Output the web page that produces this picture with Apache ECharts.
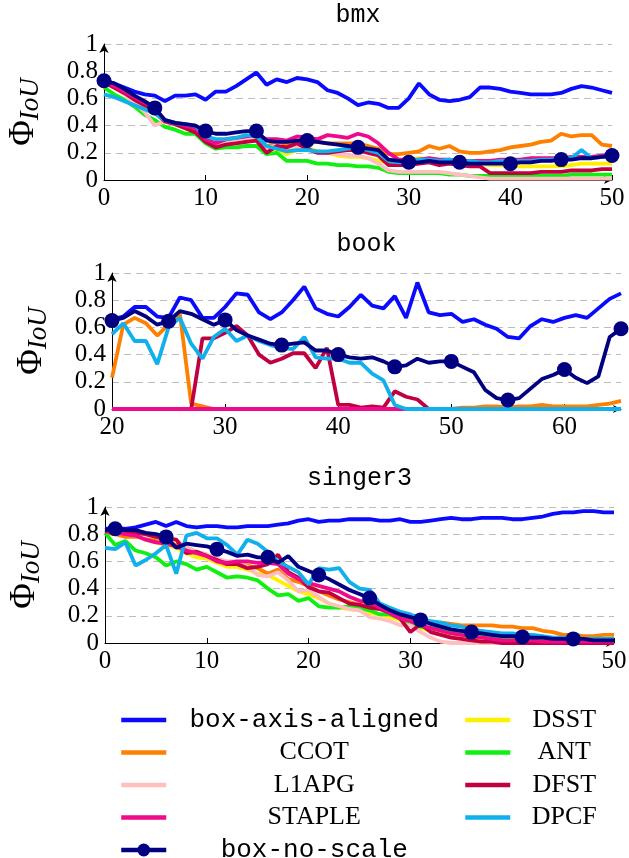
<!DOCTYPE html>
<html>
<head>
<meta charset="utf-8">
<script src="https://cdn.jsdelivr.net/npm/echarts@6/dist/echarts.min.js"></script>
<style>
  html, body { margin: 0; padding: 0; background: #fff; }
  #chart { width: 629px; height: 858px; }
</style>
</head>
<body>
<div id="chart"></div>
<script>
// ---- data ----
const bmxStart = 0
const bmxAxisAligned = [0.73, 0.71, 0.68, 0.65, 0.63, 0.62, 0.58, 0.62, 0.62, 0.63, 0.59, 0.65, 0.65, 0.69, 0.74, 0.79, 0.70, 0.74, 0.72, 0.75, 0.74, 0.72, 0.66, 0.64, 0.60, 0.55, 0.57, 0.56, 0.53, 0.53, 0.60, 0.71, 0.63, 0.59, 0.58, 0.59, 0.61, 0.68, 0.68, 0.67, 0.65, 0.64, 0.63, 0.63, 0.63, 0.64, 0.67, 0.69, 0.68, 0.66, 0.64]
const bmxDSST = [0.71, 0.68, 0.64, 0.60, 0.55, 0.50, 0.43, 0.41, 0.38, 0.36, 0.29, 0.25, 0.27, 0.28, 0.29, 0.30, 0.24, 0.22, 0.19, 0.22, 0.24, 0.21, 0.20, 0.18, 0.17, 0.17, 0.16, 0.14, 0.13, 0.14, 0.15, 0.16, 0.15, 0.14, 0.14, 0.13, 0.12, 0.12, 0.11, 0.11, 0.10, 0.10, 0.10, 0.10, 0.10, 0.10, 0.11, 0.12, 0.12, 0.12, 0.12]
const bmxCCOT = [0.72, 0.69, 0.65, 0.60, 0.55, 0.50, 0.43, 0.41, 0.39, 0.37, 0.30, 0.26, 0.28, 0.29, 0.30, 0.31, 0.24, 0.29, 0.26, 0.28, 0.27, 0.28, 0.27, 0.27, 0.27, 0.27, 0.25, 0.23, 0.19, 0.19, 0.20, 0.21, 0.25, 0.23, 0.25, 0.21, 0.20, 0.20, 0.21, 0.22, 0.24, 0.25, 0.26, 0.28, 0.29, 0.34, 0.32, 0.33, 0.33, 0.26, 0.25]
const bmxANT = [0.68, 0.63, 0.59, 0.54, 0.48, 0.44, 0.39, 0.37, 0.34, 0.34, 0.27, 0.23, 0.24, 0.24, 0.25, 0.25, 0.19, 0.20, 0.14, 0.14, 0.14, 0.12, 0.12, 0.11, 0.11, 0.10, 0.10, 0.09, 0.06, 0.05, 0.05, 0.05, 0.05, 0.05, 0.04, 0.04, 0.03, 0.03, 0.03, 0.03, 0.03, 0.03, 0.03, 0.03, 0.03, 0.03, 0.04, 0.04, 0.04, 0.04, 0.04]
const bmxL1APG = [0.71, 0.68, 0.63, 0.57, 0.50, 0.40, 0.43, 0.41, 0.38, 0.36, 0.29, 0.26, 0.27, 0.29, 0.30, 0.31, 0.24, 0.25, 0.23, 0.24, 0.22, 0.21, 0.20, 0.19, 0.18, 0.18, 0.16, 0.12, 0.07, 0.06, 0.06, 0.06, 0.06, 0.06, 0.05, 0.04, 0.03, 0.02, 0.01, 0.01, 0.01, 0.01, 0.01, 0.01, 0.01, 0.01, 0.01, 0.01, 0.01, 0.01, 0.01]
const bmxDFST = [0.72, 0.68, 0.64, 0.59, 0.55, 0.50, 0.43, 0.41, 0.38, 0.35, 0.28, 0.24, 0.26, 0.27, 0.28, 0.29, 0.20, 0.25, 0.24, 0.27, 0.23, 0.20, 0.20, 0.21, 0.22, 0.22, 0.20, 0.18, 0.11, 0.11, 0.11, 0.12, 0.13, 0.11, 0.12, 0.11, 0.10, 0.10, 0.05, 0.05, 0.05, 0.05, 0.05, 0.06, 0.06, 0.06, 0.07, 0.07, 0.07, 0.08, 0.08]
const bmxSTAPLE = [0.72, 0.69, 0.65, 0.61, 0.57, 0.52, 0.44, 0.42, 0.40, 0.38, 0.30, 0.27, 0.30, 0.31, 0.32, 0.33, 0.30, 0.30, 0.29, 0.32, 0.31, 0.30, 0.33, 0.32, 0.31, 0.34, 0.32, 0.27, 0.20, 0.15, 0.15, 0.15, 0.16, 0.15, 0.15, 0.14, 0.14, 0.14, 0.14, 0.15, 0.15, 0.15, 0.16, 0.16, 0.16, 0.16, 0.17, 0.17, 0.17, 0.18, 0.19]
const bmxDPCF = [0.63, 0.61, 0.58, 0.55, 0.52, 0.49, 0.44, 0.42, 0.41, 0.40, 0.32, 0.30, 0.30, 0.31, 0.33, 0.32, 0.25, 0.23, 0.21, 0.22, 0.22, 0.21, 0.21, 0.22, 0.23, 0.24, 0.22, 0.20, 0.14, 0.13, 0.14, 0.15, 0.15, 0.14, 0.15, 0.13, 0.14, 0.13, 0.13, 0.14, 0.14, 0.14, 0.14, 0.15, 0.15, 0.16, 0.16, 0.22, 0.16, 0.17, 0.17]
const bmxNoScale = [0.73, 0.71, 0.67, 0.62, 0.58, 0.53, 0.44, 0.42, 0.41, 0.40, 0.36, 0.34, 0.34, 0.35, 0.36, 0.36, 0.29, 0.28, 0.28, 0.29, 0.29, 0.28, 0.27, 0.26, 0.25, 0.24, 0.23, 0.22, 0.15, 0.14, 0.13, 0.13, 0.14, 0.13, 0.13, 0.13, 0.12, 0.12, 0.12, 0.12, 0.12, 0.13, 0.13, 0.14, 0.14, 0.15, 0.15, 0.16, 0.16, 0.17, 0.18]

const bookStart = 20
const bookAxisAligned = [0.66, 0.68, 0.75, 0.75, 0.68, 0.67, 0.82, 0.80, 0.67, 0.67, 0.75, 0.85, 0.84, 0.71, 0.66, 0.71, 0.80, 0.90, 0.74, 0.70, 0.68, 0.75, 0.84, 0.76, 0.74, 0.83, 0.67, 0.93, 0.71, 0.69, 0.70, 0.64, 0.66, 0.62, 0.59, 0.53, 0.52, 0.61, 0.66, 0.64, 0.67, 0.69, 0.67, 0.74, 0.81, 0.85]
const bookZeros = [0, 0, 0, 0, 0, 0, 0, 0, 0, 0, 0, 0, 0, 0, 0, 0, 0, 0, 0, 0, 0, 0, 0, 0, 0, 0, 0, 0, 0, 0, 0, 0, 0, 0, 0, 0, 0, 0, 0, 0, 0, 0, 0, 0, 0, 0]
const bookDSST = bookZeros
const bookANT = bookZeros
const bookL1APG = bookZeros
const bookSTAPLE = bookZeros
const bookCCOT = [0.23, 0.62, 0.67, 0.63, 0.54, 0.62, 0.70, 0.04, 0.02, 0, 0, 0, 0, 0, 0, 0, 0, 0, 0, 0, 0, 0, 0, 0, 0, 0, 0, 0, 0, 0, 0, 0.01, 0.01, 0.02, 0.02, 0.01, 0.02, 0.02, 0.03, 0.02, 0.02, 0.02, 0.02, 0.03, 0.04, 0.06]
const bookDFST = [0, 0, 0, 0, 0, 0, 0, 0, 0.52, 0.52, 0.56, 0.61, 0.54, 0.40, 0.34, 0.37, 0.41, 0.41, 0.30, 0.45, 0.03, 0.03, 0.01, 0.02, 0.01, 0.13, 0.09, 0.07, 0, 0, 0, 0, 0, 0, 0, 0, 0, 0, 0, 0, 0, 0, 0, 0, 0, 0]
const bookDPCF = [0.55, 0.63, 0.50, 0.50, 0.33, 0.60, 0.67, 0.48, 0.37, 0.53, 0.59, 0.50, 0.54, 0.50, 0.47, 0.45, 0.44, 0.53, 0.38, 0.37, 0.37, 0.34, 0.34, 0.26, 0.21, 0.03, 0, 0, 0, 0, 0, 0, 0, 0, 0, 0, 0, 0, 0, 0, 0, 0, 0, 0, 0, 0]
const bookNoScale = [0.65, 0.67, 0.72, 0.68, 0.62, 0.645, 0.72, 0.70, 0.66, 0.62, 0.655, 0.58, 0.54, 0.51, 0.48, 0.47, 0.48, 0.49, 0.43, 0.43, 0.40, 0.38, 0.37, 0.38, 0.35, 0.31, 0.32, 0.37, 0.34, 0.35, 0.35, 0.31, 0.27, 0.14, 0.08, 0.066, 0.08, 0.15, 0.22, 0.25, 0.29, 0.23, 0.19, 0.24, 0.53, 0.59]

const singerStart = 0
const singerAxisAligned = [0.84, 0.84, 0.84, 0.85, 0.87, 0.89, 0.86, 0.89, 0.86, 0.85, 0.86, 0.86, 0.85, 0.85, 0.86, 0.86, 0.86, 0.87, 0.88, 0.90, 0.91, 0.89, 0.90, 0.90, 0.91, 0.91, 0.91, 0.90, 0.90, 0.91, 0.89, 0.89, 0.90, 0.91, 0.92, 0.91, 0.91, 0.92, 0.92, 0.92, 0.91, 0.91, 0.92, 0.93, 0.95, 0.96, 0.96, 0.97, 0.97, 0.96, 0.96]
const singerDSST = [0.82, 0.81, 0.79, 0.79, 0.76, 0.74, 0.72, 0.70, 0.66, 0.63, 0.62, 0.59, 0.56, 0.56, 0.54, 0.51, 0.50, 0.46, 0.42, 0.38, 0.36, 0.33, 0.29, 0.26, 0.25, 0.24, 0.22, 0.21, 0.19, 0.17, 0.14, 0.11, 0.09, 0.08, 0.06, 0.05, 0.04, 0.03, 0.03, 0.02, 0.02, 0.02, 0.02, 0.01, 0.01, 0.01, 0.01, 0.01, 0.01, 0.01, 0.01]
const singerCCOT = [0.81, 0.80, 0.78, 0.78, 0.78, 0.76, 0.74, 0.72, 0.70, 0.67, 0.65, 0.60, 0.58, 0.58, 0.57, 0.55, 0.51, 0.54, 0.47, 0.45, 0.42, 0.38, 0.35, 0.32, 0.30, 0.28, 0.27, 0.25, 0.23, 0.20, 0.18, 0.16, 0.15, 0.15, 0.14, 0.13, 0.13, 0.13, 0.13, 0.12, 0.12, 0.11, 0.11, 0.09, 0.08, 0.06, 0.06, 0.05, 0.05, 0.06, 0.06]
const singerANT = [0.81, 0.72, 0.75, 0.68, 0.66, 0.63, 0.57, 0.60, 0.58, 0.54, 0.56, 0.52, 0.48, 0.49, 0.48, 0.46, 0.40, 0.35, 0.36, 0.31, 0.33, 0.27, 0.26, 0.26, 0.27, 0.26, 0.24, 0.21, 0.21, 0.18, 0.15, 0.12, 0.11, 0.10, 0.08, 0.07, 0.06, 0.05, 0.04, 0.03, 0.03, 0.02, 0.02, 0.02, 0.02, 0.01, 0.01, 0.01, 0.01, 0.01, 0.01]
const singerL1APG = [0.82, 0.81, 0.80, 0.80, 0.79, 0.78, 0.76, 0.76, 0.70, 0.67, 0.65, 0.62, 0.60, 0.60, 0.56, 0.50, 0.49, 0.52, 0.46, 0.38, 0.39, 0.34, 0.29, 0.27, 0.25, 0.24, 0.19, 0.18, 0.16, 0.13, 0.13, 0.08, 0.04, 0.01, 0, 0, 0, 0, 0, 0, 0, 0, 0, 0, 0, 0, 0, 0, 0, 0, 0]
const singerDFST = [0.82, 0.82, 0.81, 0.81, 0.80, 0.78, 0.77, 0.76, 0.66, 0.67, 0.64, 0.61, 0.58, 0.58, 0.55, 0.56, 0.58, 0.65, 0.52, 0.48, 0.41, 0.38, 0.37, 0.33, 0.29, 0.28, 0.26, 0.25, 0.22, 0.18, 0.08, 0.14, 0.08, 0.06, 0.04, 0.03, 0.02, 0.01, 0.01, 0, 0, 0, 0, 0, 0, 0, 0, 0, 0, 0, 0]
const singerSTAPLE = [0.83, 0.81, 0.80, 0.79, 0.76, 0.74, 0.73, 0.71, 0.68, 0.66, 0.64, 0.60, 0.59, 0.60, 0.60, 0.59, 0.59, 0.58, 0.51, 0.47, 0.44, 0.42, 0.40, 0.38, 0.34, 0.31, 0.30, 0.26, 0.22, 0.18, 0.16, 0.13, 0.11, 0.09, 0.07, 0.06, 0.05, 0.04, 0.03, 0.02, 0.02, 0.02, 0.02, 0.01, 0.01, 0.01, 0.01, 0.01, 0.01, 0.01, 0.01]
const singerDPCF = [0.70, 0.69, 0.74, 0.57, 0.61, 0.66, 0.72, 0.51, 0.79, 0.81, 0.77, 0.77, 0.72, 0.65, 0.76, 0.73, 0.67, 0.60, 0.56, 0.52, 0.43, 0.55, 0.54, 0.55, 0.45, 0.40, 0.39, 0.29, 0.26, 0.23, 0.21, 0.18, 0.16, 0.15, 0.13, 0.12, 0.10, 0.09, 0.08, 0.07, 0.07, 0.06, 0.06, 0.05, 0.04, 0.04, 0.04, 0.03, 0.03, 0.03, 0.03]
const singerNoScale = [0.83, 0.84, 0.83, 0.83, 0.81, 0.80, 0.78, 0.70, 0.73, 0.72, 0.71, 0.69, 0.67, 0.64, 0.65, 0.63, 0.63, 0.59, 0.64, 0.56, 0.53, 0.50, 0.47, 0.43, 0.39, 0.36, 0.33, 0.28, 0.24, 0.21, 0.19, 0.17, 0.14, 0.12, 0.10, 0.09, 0.08, 0.07, 0.06, 0.05, 0.05, 0.045, 0.04, 0.04, 0.03, 0.03, 0.03, 0.03, 0.02, 0.02, 0.02]

const yTicks = [0, 0.2, 0.4, 0.6, 0.8, 1]

// ---- styles ----
const colors = {
  'box-axis-aligned': '#0a0aff',
  'DSST': '#fff000',
  'CCOT': '#ff8000',
  'ANT': '#10f010',
  'L1APG': '#ffbfbf',
  'DFST': '#c00040',
  'STAPLE': '#ee0a8a',
  'DPCF': '#10b0ec',
  'box-no-scale': '#000080'
}
const serif = 'Liberation Serif'
const mono = 'Liberation Mono'

// panel definitions (drawing order as in the original plot)
const panels = [
  { title: 'bmx', start: bmxStart, min: 0, max: 50, markFirst: 0, grid: { left: 104, top: 44, width: 508, height: 136 }, titleTop: 3,
    lines: [['box-axis-aligned', bmxAxisAligned], ['DSST', bmxDSST], ['CCOT', bmxCCOT], ['ANT', bmxANT], ['L1APG', bmxL1APG], ['DFST', bmxDFST], ['STAPLE', bmxSTAPLE], ['DPCF', bmxDPCF], ['box-no-scale', bmxNoScale]] },
  { title: 'book', start: bookStart, min: 20, max: 65, markFirst: 0, grid: { left: 112, top: 273, width: 509, height: 136 }, titleTop: 232,
    lines: [['box-axis-aligned', bookAxisAligned], ['DSST', bookDSST], ['CCOT', bookCCOT], ['ANT', bookANT], ['L1APG', bookL1APG], ['DFST', bookDFST], ['STAPLE', bookSTAPLE], ['DPCF', bookDPCF], ['box-no-scale', bookNoScale]] },
  { title: 'singer3', start: singerStart, min: 0, max: 50, markFirst: 1, grid: { left: 105, top: 507, width: 509, height: 136 }, titleTop: 466,
    lines: [['box-axis-aligned', singerAxisAligned], ['DSST', singerDSST], ['CCOT', singerCCOT], ['ANT', singerANT], ['L1APG', singerL1APG], ['DFST', singerDFST], ['STAPLE', singerSTAPLE], ['DPCF', singerDPCF], ['box-no-scale', singerNoScale]] }
]

const grids = []
const xAxes = []
const yAxes = []
const titles = []
const series = []

panels.forEach((p, g) => {
  grids.push(Object.assign({ containLabel: false, outerBoundsMode: 'none' }, p.grid))
  titles.push({
    text: p.title,
    left: p.grid.left + p.grid.width / 2,
    textAlign: 'center',
    top: p.titleTop,
    padding: 0,
    textStyle: { fontFamily: mono, fontSize: 25, fontWeight: 'normal', color: '#000' }
  })
  xAxes.push({
    type: 'value',
    gridIndex: g,
    min: p.min,
    max: p.max,
    interval: 10,
    axisLine: { show: true, onZero: false, lineStyle: { color: '#000', width: 1 }, symbol: ['none', 'arrow'], symbolSize: [6, 8] },
    axisTick: { show: true, inside: true, length: 5, lineStyle: { color: '#000' } },
    axisLabel: { show: true, margin: 6, showMaxLabel: p.max % 10 === 0, fontFamily: serif, fontSize: 25, color: '#000' },
    splitLine: { show: false }
  })
  yAxes.push({
    type: 'value',
    gridIndex: g,
    min: yTicks[0],
    max: yTicks[yTicks.length - 1],
    interval: 0.2,
    name: '{p|Φ}{s|IoU}',
    nameLocation: 'middle',
    nameRotate: 90,
    nameGap: 60,
    nameTextStyle: {
      color: '#000',
      rich: {
        p: { fontFamily: serif, fontSize: 35, lineHeight: 40, color: '#000' },
        s: { fontFamily: serif, fontSize: 27, fontStyle: 'italic', lineHeight: 18, verticalAlign: 'bottom', color: '#000' }
      }
    },
    axisLine: { show: true, onZero: false, lineStyle: { color: '#000', width: 1 }, symbol: ['none', 'arrow'], symbolSize: [7, 9] },
    axisTick: { show: false },
    axisLabel: { show: true, margin: 6, fontFamily: serif, fontSize: 25, color: '#000' },
    splitLine: { show: true, lineStyle: { color: '#bdbdbd', type: [7, 5], width: 1 } }
  })
  p.lines.forEach(([name, ys]) => {
    const marked = name === 'box-no-scale'
    series.push({
      type: 'line',
      name: name,
      xAxisIndex: g,
      yAxisIndex: g,
      data: ys.map((v, i) => [p.start + i, v]),
      symbol: marked ? 'circle' : 'none',
      symbolSize: marked ? (v, params) => ((params.dataIndex - p.markFirst) % 5 === 0 ? 15 : 0) : 0,
      showSymbol: marked,
      showAllSymbol: true,
      lineStyle: { width: 3.8, color: colors[name] },
      itemStyle: { color: colors[name] },
      emphasis: { disabled: true },
      clip: true
    })
  })
})

// legend entries: hide the dot for plain lines
const legendItem = (name) => (name === 'box-no-scale'
  ? { name: name }
  : { name: name, itemStyle: { opacity: 0 } })

const legendBase = {
  type: 'plain',
  orient: 'vertical',
  top: 707,
  height: 170,
  padding: 0,
  itemWidth: 45,
  itemHeight: 16,
  itemGap: 6.5,
  selectedMode: false,
  lineStyle: { width: 4.5 }
}
const legendLeft = Object.assign({}, legendBase, {
  left: 119,
  data: ['box-axis-aligned', 'CCOT', 'L1APG', 'STAPLE', 'box-no-scale'].map(legendItem),
  formatter: (name) => (name.indexOf('box') === 0 ? '{m|' + name + '}' : '{s|' + name + '}'),
  textStyle: {
    rich: {
      m: { fontFamily: mono, fontSize: 26, width: 286, align: 'center', lineHeight: 26, color: '#000' },
      s: { fontFamily: serif, fontSize: 26, width: 286, align: 'center', lineHeight: 26, color: '#000' }
    }
  }
})
const legendRight = Object.assign({}, legendBase, {
  left: 463,
  data: ['DSST', 'ANT', 'DFST', 'DPCF'].map(legendItem),
  formatter: (name) => '{s|' + name + '}',
  textStyle: {
    rich: {
      s: { fontFamily: serif, fontSize: 26, width: 98, align: 'center', lineHeight: 26, color: '#000' }
    }
  }
})

const chart = echarts.init(document.getElementById('chart'), null, { renderer: 'canvas' })
chart.setOption({
  animation: false,
  backgroundColor: '#fff',
  title: titles,
  grid: grids,
  xAxis: xAxes,
  yAxis: yAxes,
  legend: [legendLeft, legendRight],
  series: series
})
</script>
</body>
</html>
